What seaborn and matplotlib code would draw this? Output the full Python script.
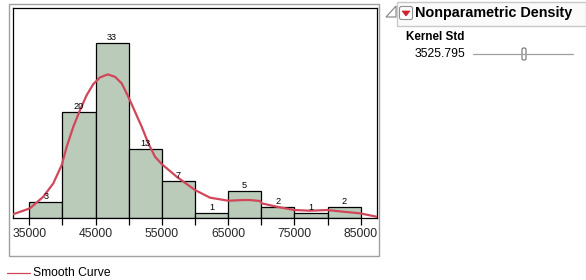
import numpy as np
import pandas as pd
import matplotlib
matplotlib.use("Agg")
import matplotlib.pyplot as plt
from matplotlib.patches import Rectangle, FancyBboxPatch, Polygon
import seaborn as sns

# ---- data ----
bin_edges = [35000, 40000, 45000, 50000, 55000, 60000, 65000, 70000, 75000, 80000, 85000]
counts = [3, 20, 33, 13, 7, 1, 5, 2, 1, 2]
tick_values = [35000, 45000, 55000, 65000, 75000, 85000]

# smooth (kernel density) curve, in count units
curve_x = [32540, 35100, 37110, 38620, 39890, 40640, 41640, 42650, 43660, 44660,
           45670, 46830, 47930, 48940, 49940, 50950, 51960, 52960, 53970, 54980,
           57240, 60000, 62270, 65030, 67290, 68300, 69810, 70070, 72330, 74990,
           77360, 79970, 82380, 84900, 87420]
curve_y = [0.70, 1.82, 4.00, 6.52, 9.96, 13.40, 17.16, 20.30, 23.12, 25.19,
           26.45, 27.01, 26.56, 25.32, 22.80, 19.98, 17.16, 14.04, 11.52, 10.15,
           7.76, 5.26, 3.82, 3.25, 3.38, 3.38, 3.20, 2.76, 2.12, 1.50,
           1.37, 1.50, 1.18, 0.88, 0.24]

kernel_std = "3525.795"
title = "Nonparametric Density"
legend_label = "Smooth Curve"

sns.set_style("white")
plt.rcParams["font.family"] = ["Liberation Sans", "DejaVu Sans"]

W, H = 586, 280
fig = plt.figure(figsize=(W / 100, H / 100), dpi=100)

# main plot axes (pixel box: x 13..377, y 8..218)
ax = fig.add_axes([13 / W, (H - 218) / H, 364 / W, 210 / H])

centers = [(a + b) / 2 for a, b in zip(bin_edges[:-1], bin_edges[1:])]
df = pd.DataFrame({"value": centers, "count": counts})
sns.histplot(data=df, x="value", weights="count", bins=bin_edges, ax=ax,
             color="#BACBBA", alpha=1, edgecolor="black", linewidth=0.9, zorder=2)

cdf = pd.DataFrame({"x": curve_x, "y": curve_y})
sns.lineplot(data=cdf, x="x", y="y", ax=ax, color="#D2465A", linewidth=1.6,
             sort=True, zorder=3)

for c, n in zip(centers, counts):
    ax.annotate(str(n), (c, n), xytext=(0, 2.2), textcoords="offset points",
                ha="center", va="baseline", fontsize=6.6, color="black", zorder=4)

ax.set_xlim(32540, 87460)
ax.set_ylim(0, 39.5)
ax.set_xticks(tick_values)
ax.set_xticklabels([str(v) for v in tick_values])
ax.set_xticks(bin_edges, minor=True)
ax.set_yticks([])
ax.set_xlabel("")
ax.set_ylabel("")
ax.tick_params(axis="x", which="both", direction="out", length=5, width=0.9,
               color="black", labelsize=8.7, pad=2, bottom=True)
for s in ax.spines.values():
    s.set_color("black")
    s.set_linewidth(0.9)

# overlay in pixel coordinates for panel decorations
ov = fig.add_axes([0, 0, 1, 1], zorder=5)
ov.set_xlim(0, W)
ov.set_ylim(H, 0)
ov.axis("off")
ov.patch.set_alpha(0)

# outer gray frame around the graph
ov.add_patch(Rectangle((8.5, 3.5), 370.5, 252.5, fill=False, edgecolor="#A0A0A0", linewidth=1.0))

# legend
ov.plot([7, 30], [272.5, 272.5], color="#D2465A", linewidth=0.9)
ov.text(33, 272.5, legend_label, fontsize=8.7, va="center", ha="left", color="black")

# header of the right panel
ov.add_patch(Rectangle((396.5, 1.5), 189, 24, fill=True, facecolor="#FAFAFA",
                       edgecolor="#C8C8C8", linewidth=1.0))
ov.add_patch(Polygon([[386, 17], [396, 17], [396, 6]], closed=True, fill=False,
                     edgecolor="#808080", linewidth=0.8))
ov.add_patch(FancyBboxPatch((399.5, 6.5), 13, 13, boxstyle="round,pad=0,rounding_size=2",
                            facecolor="white", edgecolor="#909090", linewidth=0.8))
ov.add_patch(Polygon([[402, 11], [410, 11], [406, 16]], closed=True,
                     facecolor="#D0202A", edgecolor="#D0202A", linewidth=0.5))
ov.text(415, 13.5, title, fontsize=10.4, fontweight="bold", va="center", ha="left",
        color="black")

# kernel std control
ov.text(406, 37.5, "Kernel Std", fontsize=8.4, fontweight="bold", va="center",
        ha="left", color="black")
ov.text(465, 54, kernel_std, fontsize=8.8, va="center", ha="right", color="black")
ov.plot([473, 573], [54, 54], color="#A0A0A0", linewidth=0.9)
ov.add_patch(FancyBboxPatch((522, 48), 4, 12, boxstyle="round,pad=0,rounding_size=1.5",
                            facecolor="white", edgecolor="#707070", linewidth=0.8))

fig.savefig("out.png", dpi=100)
